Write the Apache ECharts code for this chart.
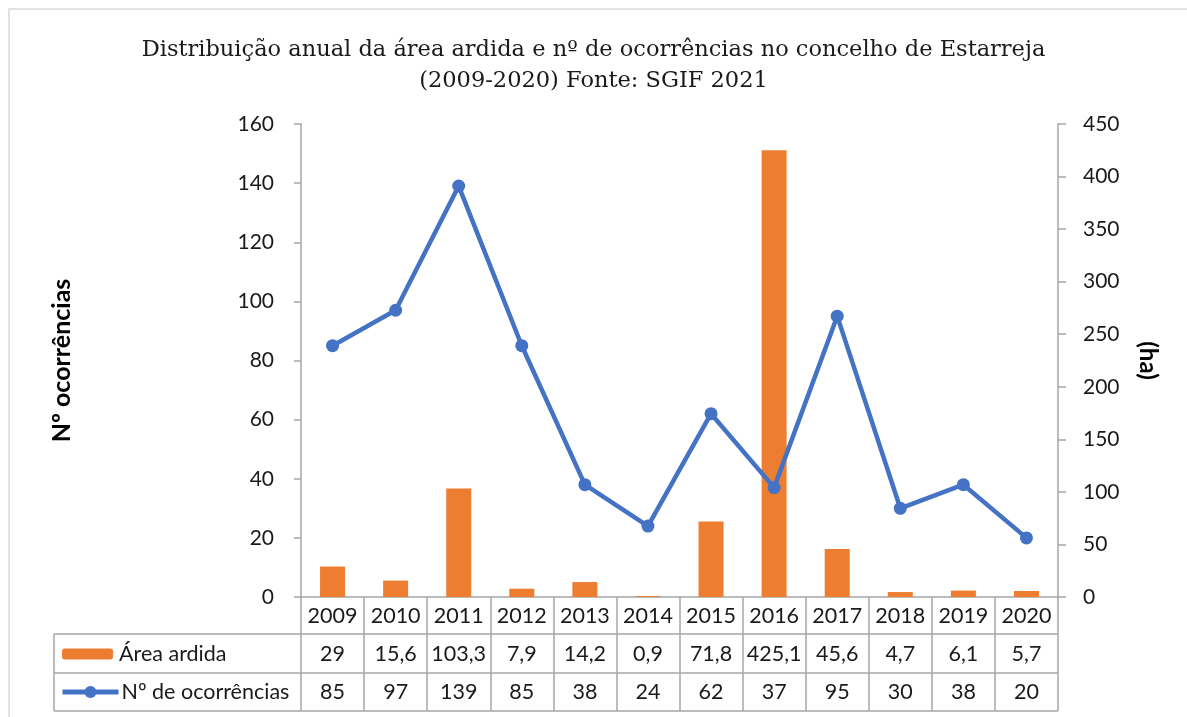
<!DOCTYPE html>
<html>
<head>
<meta charset="utf-8">
<title>Área ardida e ocorrências - Estarreja</title>
<script src="https://cdn.jsdelivr.net/npm/echarts@6/dist/echarts.min.js"></script>
<style>
  html, body { margin: 0; padding: 0; background: #fff; }
  #chart { width: 1187px; height: 717px; }
</style>
</head>
<body>
<div id="chart"></div>
<script>
// dados
const anos = ['2009', '2010', '2011', '2012', '2013', '2014', '2015', '2016', '2017', '2018', '2019', '2020']
const areaArdida = [29, 15.6, 103.3, 7.9, 14.2, 0.9, 71.8, 425.1, 45.6, 4.7, 6.1, 5.7]
const ocorrencias = [85, 97, 139, 85, 38, 24, 62, 37, 95, 30, 38, 20]

const fonte = 'Lato, "Liberation Sans", sans-serif'
const corLinhas = '#a6a6a6'
const corTexto = '#1a1a1a'

// valores da tabela com vírgula decimal
const fmt = v => String(v).replace('.', ',')

const chart = echarts.init(document.getElementById('chart'))

// linhas horizontais da tabela (parte esquerda + grelha)
const tabelaLinhas = [
  { type: 'line', shape: { x1: 54, y1: 634, x2: 1058, y2: 634 } },
  { type: 'line', shape: { x1: 54, y1: 673, x2: 1058, y2: 673 } },
  { type: 'line', shape: { x1: 54, y1: 711, x2: 1058, y2: 711 } },
  { type: 'line', shape: { x1: 54, y1: 634, x2: 54, y2: 711 } }
].map(l => ({ ...l, silent: true, style: { stroke: corLinhas, lineWidth: 1.5 } }))

const labelTabela = { interval: 0, fontFamily: fonte, fontSize: 21.5, color: corTexto }

const option = {
  animation: false,
  title: {
    text: 'Distribuição anual da área ardida e nº de ocorrências no concelho de Estarreja\n(2009-2020) Fonte: SGIF 2021',
    left: 'center',
    top: 30,
    textStyle: {
      fontFamily: '"DejaVu Serif", serif',
      fontSize: 22.5,
      fontWeight: 'normal',
      color: corTexto,
      lineHeight: 31
    }
  },
  // uma legenda por linha da tabela
  legend: [
    {
      left: 57,
      top: 638,
      itemWidth: 51,
      itemHeight: 11,
      itemGap: 0,
      textStyle: { fontFamily: fonte, fontSize: 21.5, color: corTexto, padding: [0, 0, 0, 1] },
      data: ['Área ardida']
    },
    {
      left: 55,
      top: 676,
      itemWidth: 56,
      itemHeight: 15,
      itemGap: 0,
      lineStyle: { width: 5 },
      textStyle: { fontFamily: fonte, fontSize: 21.5, color: corTexto, padding: [0, 0, 0, -2] },
      data: ['Nº de ocorrências']
    }
  ],
  grid: { left: 301, right: 129, top: 124, bottom: 120 },
  xAxis: [
    {
      type: 'category',
      data: anos,
      position: 'bottom',
      axisLine: { lineStyle: { color: corLinhas, width: 1.5 } },
      axisTick: { show: true, interval: 0, length: 114, lineStyle: { color: corLinhas, width: 1.5 } },
      axisLabel: { ...labelTabela, margin: 8 }
    },
    {
      type: 'category',
      data: areaArdida.map(fmt),
      position: 'bottom',
      offset: 37,
      axisLine: { show: false },
      axisTick: { show: false },
      axisLabel: { ...labelTabela, margin: 9 }
    },
    {
      type: 'category',
      data: ocorrencias.map(fmt),
      position: 'bottom',
      offset: 76,
      axisLine: { show: false },
      axisTick: { show: false },
      axisLabel: { ...labelTabela, margin: 8 }
    }
  ],
  yAxis: [
    {
      type: 'value',
      min: 0,
      max: 160,
      interval: 20,
      position: 'left',
      name: 'Nº ocorrências',
      nameLocation: 'middle',
      nameGap: 227,
      nameTextStyle: { fontFamily: fonte, fontSize: 25, fontWeight: 'bold', color: '#000' },
      axisLine: { show: true, lineStyle: { color: corLinhas, width: 1.5 } },
      axisTick: { show: true, length: 7, lineStyle: { color: corLinhas, width: 1.5 } },
      axisLabel: { margin: 27, fontFamily: fonte, fontSize: 21, color: corTexto },
      splitLine: { show: false }
    },
    {
      type: 'value',
      min: 0,
      max: 450,
      interval: 50,
      position: 'right',
      name: '(ha)',
      nameLocation: 'middle',
      nameRotate: -90,
      nameGap: 78,
      nameTextStyle: { fontFamily: fonte, fontSize: 24, fontWeight: 'bold', color: '#000' },
      axisLine: { show: true, lineStyle: { color: corLinhas, width: 1.5 } },
      axisTick: { show: true, length: 8, lineStyle: { color: corLinhas, width: 1.5 } },
      axisLabel: { margin: 25, fontFamily: fonte, fontSize: 21, color: corTexto },
      splitLine: { show: false }
    }
  ],
  series: [
    {
      name: 'Área ardida',
      type: 'bar',
      yAxisIndex: 1,
      barWidth: 25,
      itemStyle: { color: '#ED7D31' },
      data: areaArdida
    },
    {
      name: 'Nº de ocorrências',
      type: 'line',
      yAxisIndex: 0,
      z: 3,
      symbol: 'circle',
      symbolSize: 13,
      lineStyle: { color: '#4472C4', width: 4.5 },
      itemStyle: { color: '#4472C4' },
      data: ocorrencias
    }
  ],
  graphic: [
    {
      type: 'rect',
      silent: true,
      shape: { x: 9, y: 9, width: 1200, height: 720 },
      style: { fill: 'none', stroke: '#d9d9d9', lineWidth: 1.5 }
    },
    ...tabelaLinhas
  ]
}

chart.setOption(option)
</script>
</body>
</html>
